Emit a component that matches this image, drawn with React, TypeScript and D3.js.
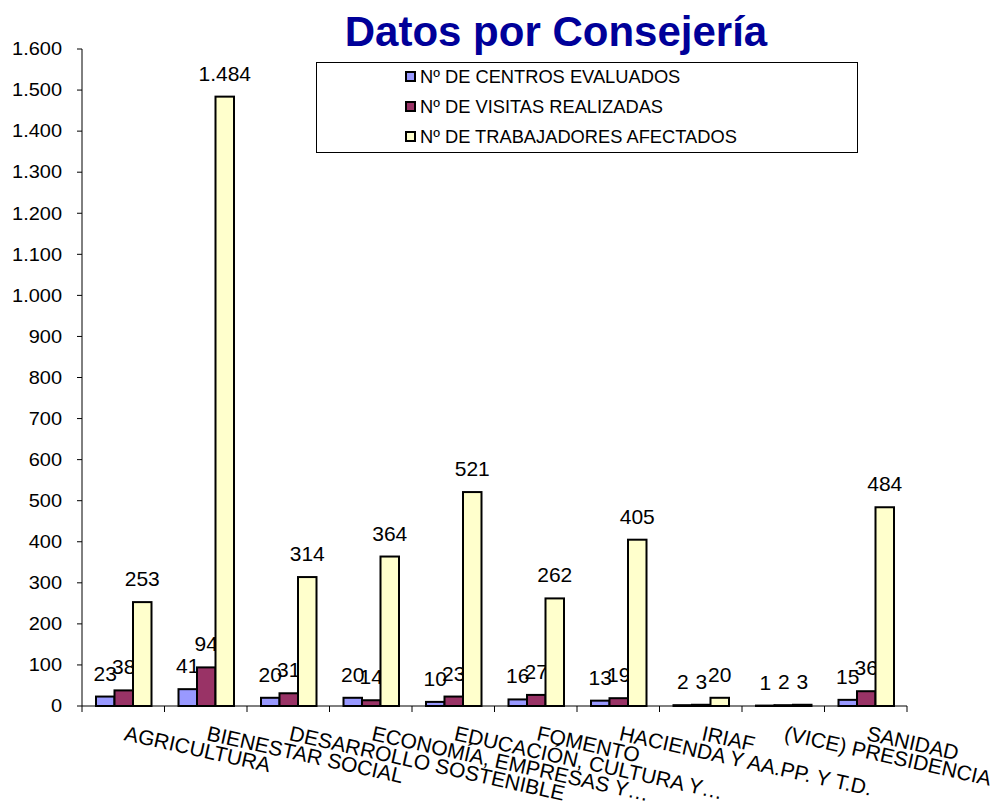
import React from "react";
import * as d3 from "d3";

const categories = [
  "AGRICULTURA",
  "BIENESTAR SOCIAL",
  "DESARROLLO SOSTENIBLE",
  "ECONOMÍA, EMPRESAS Y…",
  "EDUCACIÓN, CULTURA Y…",
  "FOMENTO",
  "HACIENDA Y AA.PP. Y T.D.",
  "IRIAF",
  "(VICE) PRESIDENCIA",
  "SANIDAD",
];
const seriesNames = [
  "Nº DE CENTROS EVALUADOS",
  "Nº DE VISITAS REALIZADAS",
  "Nº DE TRABAJADORES AFECTADOS",
];
const centros = [23, 41, 20, 20, 10, 16, 13, 2, 1, 15];
const visitas = [38, 94, 31, 14, 23, 27, 19, 3, 2, 36];
const trabajadores = [253, 1484, 314, 364, 521, 262, 405, 20, 3, 484];
const seriesColors = ["#9999FF", "#993366", "#FFFFCC"];
const yTicks = [0, 100, 200, 300, 400, 500, 600, 700, 800, 900, 1000, 1100, 1200, 1300, 1400, 1500, 1600];

const FONT = "'Liberation Sans', Arial, sans-serif";

export default function App() {
  const W = 995, H = 811;
  const x0 = 82, x1 = 907, yTop = 49, yBottom = 706;
  const series = [centros, visitas, trabajadores];
  const x = d3.scaleBand<string>().domain(categories).range([x0, x1]).paddingInner(0).paddingOuter(0);
  const xs = d3.scaleBand<number>().domain([0, 1, 2]).range([14, x.bandwidth() - 13]).padding(0);
  const y = d3.scaleLinear().domain([0, 1600]).range([yBottom, yTop]);
  const fmt = (v: number) => d3.format(",")(v).replace(/,/g, ".");

  return (
    <svg width={W} height={H} style={{ position: "absolute", left: 0, top: 0, background: "#fff" }} fontFamily={FONT}>
      <text x={556} y={46} textAnchor="middle" fontSize={42} fontWeight="bold" fill="#000099">Datos por Consejería</text>

      {/* y axis */}
      <line x1={x0} x2={x0} y1={yTop} y2={yBottom} stroke="#000" strokeWidth={1} />
      {yTicks.map((t) => (
        <g key={t}>
          <line x1={x0 - 5} x2={x0} y1={y(t)} y2={y(t)} stroke="#000" />
          <text transform={`translate(62,${y(t)}) scale(1.11,1)`} dy="0.35em" textAnchor="end" fontSize={18} fill="#000">{fmt(t)}</text>
        </g>
      ))}

      {/* bars */}
      {categories.map((c, i) => (
        <g key={c}>
          {series.map((s, k) => {
            const bx = (x(c) as number) + (xs(k) as number);
            const bw = xs.bandwidth();
            return (
              <g key={k}>
                <rect x={bx} y={y(s[i])} width={bw} height={yBottom - y(s[i])} fill={seriesColors[k]} stroke="#000" strokeWidth={2} />
                <text x={bx + bw / 2} y={y(s[i]) - 16} textAnchor="middle" fontSize={21} fill="#000">{fmt(s[i])}</text>
              </g>
            );
          })}
        </g>
      ))}

      {/* x axis */}
      <line x1={x0} x2={x1} y1={yBottom} y2={yBottom} stroke="#000" strokeWidth={1} />
      {categories.concat(["__end"]).map((c, i) => {
        const px = x0 + i * x.step();
        return <line key={c} x1={px} x2={px} y1={yBottom} y2={yBottom + 6} stroke="#000" />;
      })}
      {categories.map((c) => {
        const cx = (x(c) as number) + x.bandwidth() / 2;
        return (
          <text key={c} transform={`translate(${cx},${740}) rotate(12.5)`} textAnchor="start" fontSize={21} fill="#000">{c}</text>
        );
      })}

      {/* legend */}
      <rect x={316.5} y={62.5} width={541} height={90} fill="#fff" stroke="#000" strokeWidth={1} />
      {seriesNames.map((n, k) => (
        <g key={n}>
          <rect x={406} y={72 + k * 30} width={9} height={9} fill={seriesColors[k]} stroke="#000" strokeWidth={2} />
          <text x={420} y={77 + k * 30} dy="0.35em" fontSize={18.3} fill="#000">{n}</text>
        </g>
      ))}
    </svg>
  );
}
